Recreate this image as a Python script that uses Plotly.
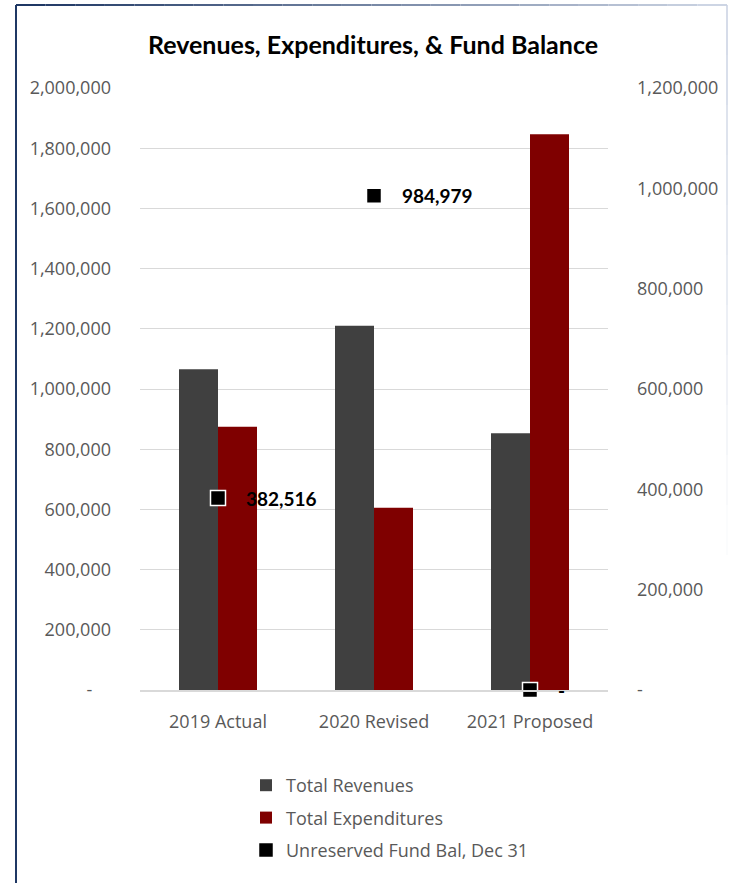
import plotly.graph_objects as go

# Budget summary by fiscal year
categories = ["2019 Actual", "2020 Revised", "2021 Proposed"]
total_revenues = [1065600, 1210000, 853000]
total_expenditures = [874400, 605600, 1846700]
fund_balance = [382516, 984979, 0]

left_ticks = [0, 200000, 400000, 600000, 800000, 1000000, 1200000, 1400000, 1600000, 1800000, 2000000]
right_ticks = [0, 200000, 400000, 600000, 800000, 1000000, 1200000]


def acct(v, pad=""):
    return "-" + pad if v == 0 else f"{v:,}"


W, H = 736, 883
ML, MR, MT, MB = 140, 128, 88, 193
PW, PH = W - ML - MR, H - MT - MB


def px(x):
    return (x - ML) / PW


def py(y):
    return (H - MB - y) / PH


FONT = "Open Sans"
GREY = "#595959"

fig = go.Figure()
fig.add_trace(go.Bar(
    x=categories, y=total_revenues, name="Total Revenues",
    marker=dict(color="#404040", line=dict(width=0)),
    legendgroup="a",
))
fig.add_trace(go.Bar(
    x=categories, y=total_expenditures, name="Total Expenditures",
    marker=dict(color="#7f0000", line=dict(width=0)),
    legendgroup="b",
))
fig.add_trace(go.Scatter(
    x=categories, y=fund_balance, name="Unreserved Fund Bal, Dec 31",
    mode="markers", yaxis="y2", cliponaxis=False,
    marker=dict(symbol="square", size=15, color="#000000",
                line=dict(color="#ffffff", width=1.5)),
    legendgroup="c",
))

# value labels beside the fund balance markers
for c, v in zip(categories, fund_balance):
    fig.add_annotation(
        x=c, y=v, xref="x", yref="y2", text=f"<b>{acct(v)}</b>",
        showarrow=False, xanchor="left", yanchor="middle", xshift=26,
        font=dict(family="Lato", size=19, color="#000000"),
    )

# chart frame: dark left edge, top edge fading to light blue-grey
shapes = [dict(type="line", xref="paper", yref="paper",
               x0=px(16), x1=px(16), y0=py(5), y1=py(H + 5),
               line=dict(color="#1f3864", width=2))]
n = 24
c0 = (31, 56, 100)
c1 = (205, 213, 228)
x_start, x_end = 16, 727
for i in range(n):
    t = i / (n - 1)
    col = "rgb({},{},{})".format(*[int(a + (b - a) * t) for a, b in zip(c0, c1)])
    xa = x_start + (x_end - x_start) * i / n
    xb = x_start + (x_end - x_start) * (i + 1) / n
    shapes.append(dict(type="line", xref="paper", yref="paper",
                       x0=px(xa), x1=px(xb), y0=py(5), y1=py(5),
                       line=dict(color=col, width=2)))
m = 12
for i in range(m):
    t = i / (m - 1)
    col = "rgba(200,209,226,{:.2f})".format(1 - t)
    ya = 5 + 600 * i / m
    yb = 5 + 600 * (i + 1) / m
    shapes.append(dict(type="line", xref="paper", yref="paper",
                       x0=px(727), x1=px(727), y0=py(ya), y1=py(yb),
                       line=dict(color=col, width=1.5)))

fig.update_layout(
    width=W, height=H,
    margin=dict(l=ML, r=MR, t=MT, b=MB),
    paper_bgcolor="#ffffff", plot_bgcolor="#ffffff",
    barmode="group", bargap=0.5, bargroupgap=0,
    font=dict(family=FONT, size=18, color=GREY),
    title=dict(text="<b>Revenues, Expenditures, &amp; Fund Balance</b>",
               x=373 / W, xanchor="center", y=1 - 45 / H, yanchor="middle",
               xref="container", yref="container",
               font=dict(family="Lato", size=25, color="#000000")),
    xaxis=dict(showgrid=False, showline=True, linecolor="#d9d9d9", linewidth=2,
               ticks="", ticklabelstandoff=14, tickfont=dict(size=18, color=GREY),
               zeroline=False),
    yaxis=dict(range=[0, 2000000], tickvals=left_ticks,
               ticktext=[acct(v, "\u00a0\u00a0\u00a0\u00a0") for v in left_ticks],
               showgrid=True, gridcolor="#d9d9d9", gridwidth=1.2, zeroline=False,
               showline=False, ticks="", ticklabelstandoff=28,
               tickfont=dict(size=18, color=GREY)),
    yaxis2=dict(range=[0, 1200000], tickvals=right_ticks,
                ticktext=[acct(v) for v in right_ticks],
                overlaying="y", side="right", showgrid=False, zeroline=False,
                showline=False, ticks="", ticklabelstandoff=28,
                tickfont=dict(size=18, color=GREY)),
    legend=dict(orientation="v", x=px(246), xanchor="left", y=py(767), yanchor="top",
                traceorder="grouped", tracegroupgap=6, itemwidth=30,
                font=dict(size=18, color=GREY), bgcolor="rgba(0,0,0,0)"),
    shapes=shapes,
    showlegend=True,
)

fig.write_html("out.html")
